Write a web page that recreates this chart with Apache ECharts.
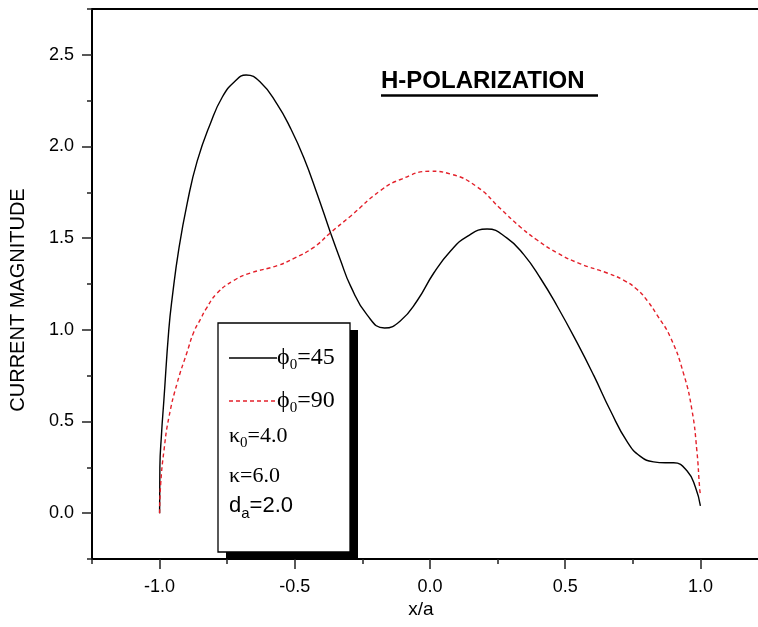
<!DOCTYPE html>
<html>
<head>
<meta charset="utf-8">
<script src="https://cdn.jsdelivr.net/npm/echarts@6.0.0/dist/echarts.min.js"></script>
<style>
html,body{margin:0;padding:0;background:#fff;overflow:hidden;}
#chart{width:768px;height:627px;}
</style>
</head>
<body>
<div id="chart"></div>
<script>
// ---- data ----
const phi45 = [
  [-1.0,0.0],[-0.999,0.25],[-0.993,0.43],[-0.984,0.62],[-0.966,1.00],[-0.953,1.18],
  [-0.929,1.44],[-0.898,1.69],[-0.861,1.92],[-0.811,2.13],[-0.768,2.27],[-0.725,2.35],
  [-0.680,2.39],[-0.627,2.35],[-0.565,2.23],[-0.516,2.10],[-0.467,1.94],[-0.417,1.74],
  [-0.368,1.53],[-0.331,1.38],[-0.294,1.24],[-0.232,1.08],[-0.168,1.01],[-0.109,1.05],
  [-0.047,1.16],[0.014,1.31],[0.076,1.43],[0.138,1.51],[0.211,1.55],[0.285,1.50],
  [0.347,1.41],[0.409,1.28],[0.470,1.13],[0.544,0.93],[0.606,0.75],[0.667,0.56],
  [0.729,0.39],[0.778,0.31],[0.827,0.28],[0.870,0.275],[0.901,0.275],[0.951,0.23],[0.982,0.14],[1.0,0.04]
];
const phi90 = [
  [-1.0,0.0],[-0.996,0.16],[-0.984,0.34],[-0.966,0.52],[-0.935,0.71],[-0.898,0.88],
  [-0.873,0.99],[-0.848,1.06],[-0.830,1.11],[-0.787,1.20],[-0.725,1.27],[-0.664,1.31],
  [-0.565,1.35],[-0.503,1.39],[-0.430,1.45],[-0.368,1.53],[-0.294,1.62],[-0.183,1.76],
  [-0.109,1.82],[0.0,1.865],[0.076,1.85],[0.174,1.78],[0.261,1.66],[0.335,1.56],
  [0.396,1.49],[0.470,1.42],[0.556,1.36],[0.655,1.31],[0.717,1.27],[0.766,1.22],
  [0.803,1.16],[0.840,1.08],[0.889,0.96],[0.938,0.76],[0.969,0.56],[0.987,0.34],
  [0.997,0.14],[1.0,0.1]
];
const xMajorTicks = [-1.0,-0.5,0.0,0.5,1.0];
const yMajorTicks = [0.0,0.5,1.0,1.5,2.0,2.5];
const seriesNames = ['ϕ0=45','ϕ0=90'];
const titleText = 'H-POLARIZATION';
const xName = 'x/a';
const yName = 'CURRENT MAGNITUDE';

const chart = echarts.init(document.getElementById('chart'), null, {renderer:'canvas'});
const axisCol = '#000';
const tickCol = '#222';
const lblFont = 'Liberation Sans, Arial, sans-serif';
const serif = 'Liberation Serif, Times New Roman, serif';
const subRich = (font, size) => ({
  m:{fontSize:size, fontFamily:font, lineHeight:30},
  s:{fontSize:15, fontFamily:font, lineHeight:6, verticalAlign:'bottom'}
});

const option = {
  animation:false,
  backgroundColor:'#fff',
  grid:{left:92, top:9, right:0, bottom:68, show:true, borderColor:'#000', borderWidth:2, backgroundColor:'transparent'},
  xAxis:[
    {type:'value', min:-1.25, max:1.25, interval:0.25, position:'bottom',
     axisLine:{show:true, onZero:false, lineStyle:{color:axisCol, width:2}},
     axisTick:{show:true, length:5, lineStyle:{color:tickCol, width:1.5}},
     axisLabel:{show:false}, splitLine:{show:false}},
    {type:'value', min:-1.25, max:1.25, position:'bottom',
     axisLine:{show:false, onZero:false},
     axisTick:{show:true, length:10, customValues:xMajorTicks, lineStyle:{color:tickCol, width:1.5}},
     axisLabel:{show:true, customValues:xMajorTicks, margin:19, fontSize:18, color:'#000', fontFamily:lblFont,
       formatter:v=>v.toFixed(1)},
     splitLine:{show:false}}
  ],
  yAxis:[
    {type:'value', min:-0.25, max:2.75, interval:0.25, position:'left',
     axisLine:{show:true, onZero:false, lineStyle:{color:axisCol, width:2}},
     axisTick:{show:true, length:5, lineStyle:{color:tickCol, width:1.5}},
     axisLabel:{show:false}, splitLine:{show:false}},
    {type:'value', min:-0.25, max:2.75, position:'left',
     axisLine:{show:false, onZero:false},
     axisTick:{show:true, length:10, customValues:yMajorTicks, lineStyle:{color:tickCol, width:1.5}},
     axisLabel:{show:true, customValues:yMajorTicks, margin:18, fontSize:18, color:'#000', fontFamily:lblFont,
       formatter:v=>v.toFixed(1)},
     splitLine:{show:false}}
  ],
  series:[
    {name:seriesNames[0], type:'line', data:phi45, xAxisIndex:0, yAxisIndex:0, showSymbol:false, symbol:'none',
     smooth:0.5, lineStyle:{color:'#000', width:1.4}},
    {name:seriesNames[1], type:'line', data:phi90, xAxisIndex:0, yAxisIndex:0, showSymbol:false, symbol:'none',
     smooth:0.5, lineStyle:{color:'#e3202a', width:1.4, type:[4,3]}}
  ],
  graphic:[
    {type:'text', x:18, y:300, rotation:Math.PI/2,
     style:{text:yName, font:'20px '+lblFont, fill:'#000', textAlign:'center', textVerticalAlign:'middle'}},
    {type:'text', x:421, y:610,
     style:{text:xName, font:'19px '+lblFont, fill:'#000', textAlign:'center', textVerticalAlign:'middle'}},
    {type:'text', x:381, y:81,
     style:{text:titleText, font:'bold 24px '+lblFont, fill:'#000', textAlign:'left', textVerticalAlign:'middle'}},
    {type:'line', shape:{x1:381, y1:95.5, x2:598, y2:95.5}, style:{stroke:'#000', lineWidth:2.5}},
    {type:'rect', z:100, shape:{x:226, y:330, width:132, height:229}, style:{fill:'#000'}},
    {type:'rect', z:101, shape:{x:218, y:323, width:132, height:229}, style:{fill:'#fff', stroke:'#000', lineWidth:1.3}},
    {type:'line', z:102, shape:{x1:229, y1:358, x2:277, y2:358}, style:{stroke:'#000', lineWidth:1.3}},
    {type:'line', z:102, shape:{x1:229, y1:401, x2:277, y2:401}, style:{stroke:'#e3202a', lineWidth:1.3, lineDash:[4,3]}},
    {type:'text', z:102, x:277, y:358,
     style:{text:'{m|ϕ}{s|0}{m|=45}', textVerticalAlign:'middle', fill:'#000', rich:subRich(serif,24)}},
    {type:'text', z:102, x:277, y:401,
     style:{text:'{m|ϕ}{s|0}{m|=90}', textVerticalAlign:'middle', fill:'#000', rich:subRich(serif,24)}},
    {type:'text', z:102, x:229, y:436,
     style:{text:'{m|κ}{s|0}{m|=4.0}', textVerticalAlign:'middle', fill:'#000', rich:subRich(serif,22)}},
    {type:'text', z:102, x:229, y:476,
     style:{text:'{m|κ=6.0}', textVerticalAlign:'middle', fill:'#000', rich:subRich(serif,22)}},
    {type:'text', z:102, x:229, y:506,
     style:{text:'{m|d}{s|a}{m|=2.0}', textVerticalAlign:'middle', fill:'#000', rich:subRich(lblFont,22)}}
  ]
};
chart.setOption(option);
</script>
</body>
</html>
